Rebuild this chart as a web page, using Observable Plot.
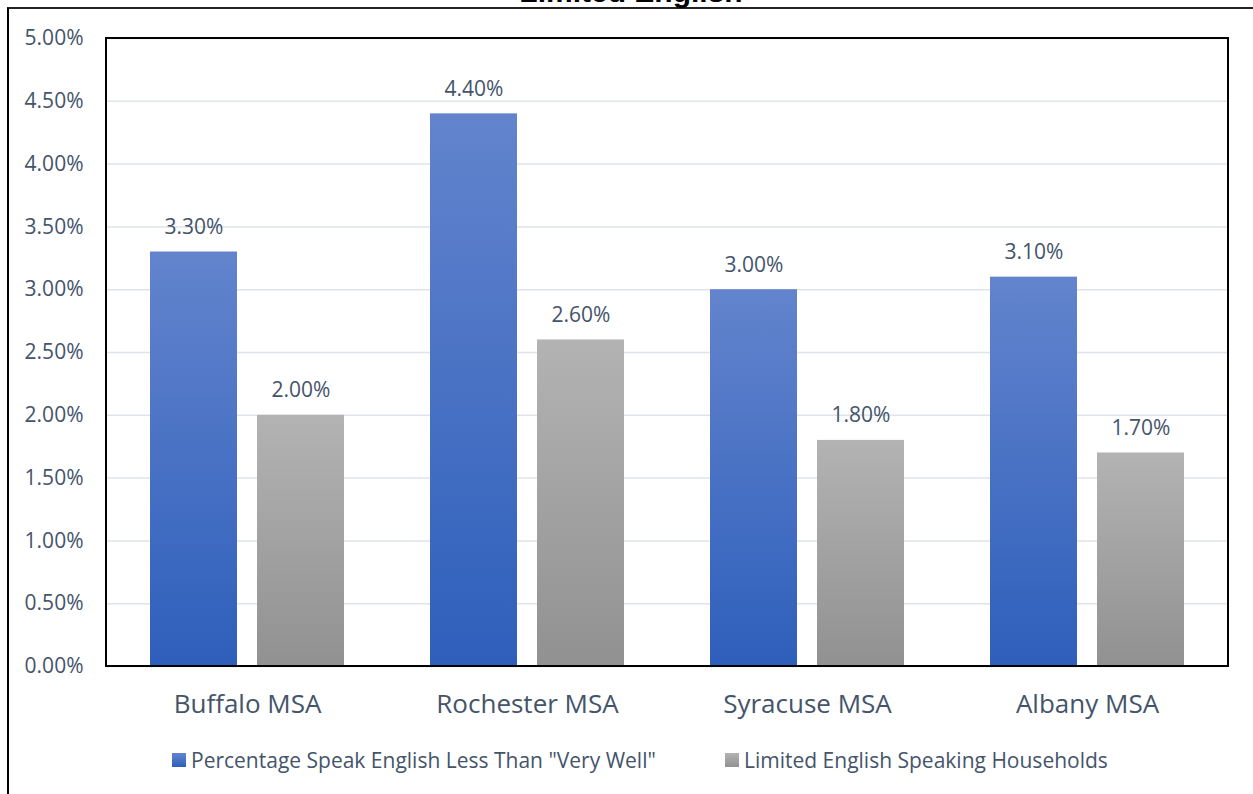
<!DOCTYPE html>
<html>
<head>
<meta charset="utf-8">
<script src="https://cdn.jsdelivr.net/npm/d3@7"></script>
<script src="https://cdn.jsdelivr.net/npm/@observablehq/plot@0.6"></script>
<style>
  html, body { margin: 0; padding: 0; background: #fff; overflow: hidden; }
  #wrap { position: relative; width: 1253px; height: 794px; overflow: hidden; font-family: "Open Sans", sans-serif; }
  #outer { position: absolute; left: 7px; top: 7px; width: 1400px; height: 900px; border-left: 2px solid #000; border-top: 2px solid #222; box-sizing: border-box; }
  #title { position: absolute; left: 0; width: 1262px; top: -23px; text-align: center; font: bold 30px/30px "Liberation Sans", Arial, sans-serif; color: #000; }
  #chart { position: absolute; left: 0; top: 0; }
  .leg { position: absolute; top: 745px; font-size: 21px; line-height: 30px; color: #44546a; white-space: nowrap; display: flex; align-items: center; }
  .sw { width: 14px; height: 14px; margin-right: 5px; display: inline-block; }
</style>
</head>
<body>
<div id="wrap">
  <div id="outer"></div>
  <div id="title">Limited English</div>
  <div id="chart"></div>
  <div class="leg" style="left:172px"><span class="sw" style="background:linear-gradient(#6384cd,#2e5fbb)"></span>Percentage Speak English Less Than "Very Well"</div>
  <div class="leg" style="left:725px"><span class="sw" style="background:linear-gradient(#b3b3b3,#919191)"></span>Limited English Speaking Households</div>
</div>
<script>
const categories = ["Buffalo MSA", "Rochester MSA", "Syracuse MSA", "Albany MSA"];
const seriesNames = ["Percentage Speak English Less Than \"Very Well\"", "Limited English Speaking Households"];
const speakLessThanVeryWell = [3.3, 4.4, 3.0, 3.1];
const limitedHouseholds = [2.0, 2.6, 1.8, 1.7];
const yTicks = [0, 0.5, 1, 1.5, 2, 2.5, 3, 3.5, 4, 4.5, 5];

const data = [];
categories.forEach((c, i) => {
  data.push({cat: c, series: seriesNames[0], value: speakLessThanVeryWell[i]});
  data.push({cat: c, series: seriesNames[1], value: limitedHouseholds[i]});
});

const pct = d => d.toFixed(2) + "%";
const textColor = "#44546a";

const plot = Plot.plot({
  width: 1253,
  height: 730,
  marginTop: 38,
  marginBottom: 64,
  marginLeft: 106,
  marginRight: 25,
  style: {fontFamily: "'Open Sans', sans-serif", fontSize: "21px", background: "transparent"},
  fx: {domain: categories, padding: 0},
  x: {domain: seriesNames, paddingInner: 0.185, paddingOuter: 0.391, axis: null},
  y: {domain: [0, 5]},
  color: {domain: seriesNames, range: ["url(#gradBlue)", "url(#gradGray)"]},
  marks: [
    Plot.gridY(yTicks, {stroke: "#dfe3ea", strokeOpacity: 1, strokeWidth: 1.5}),
    Plot.axisY(yTicks, {tickSize: 0, tickPadding: 24, tickFormat: pct, fontSize: 21, color: textColor, label: null}),
    Plot.axisFx({anchor: "bottom", tickSize: 0, tickPadding: 28, fontSize: 26, color: textColor, label: null}),
    Plot.barY(data, {fx: "cat", x: "series", y: "value", fill: "series"}),
    Plot.text(data, {fx: "cat", x: "series", y: "value", text: d => pct(d.value), dy: -18, lineAnchor: "bottom", fill: textColor, fontSize: 21})
  ]
});

const svg = d3.select(plot);
svg.insert("defs", ":first-child").html(`
  <linearGradient id="gradBlue" x1="0" y1="0" x2="0" y2="1">
    <stop offset="0" stop-color="#6384cd"/><stop offset="1" stop-color="#2e5fbb"/>
  </linearGradient>
  <linearGradient id="gradGray" x1="0" y1="0" x2="0" y2="1">
    <stop offset="0" stop-color="#b3b3b3"/><stop offset="1" stop-color="#919191"/>
  </linearGradient>`);
const fxR = plot.scale("fx").range;
const yR = plot.scale("y").range;
svg.append("rect")
  .attr("x", Math.min(...fxR)).attr("y", Math.min(...yR))
  .attr("width", Math.abs(fxR[1] - fxR[0])).attr("height", Math.abs(yR[1] - yR[0]))
  .attr("fill", "none").attr("stroke", "#000").attr("stroke-width", 2);

document.getElementById("chart").appendChild(plot);
</script>
</body>
</html>
